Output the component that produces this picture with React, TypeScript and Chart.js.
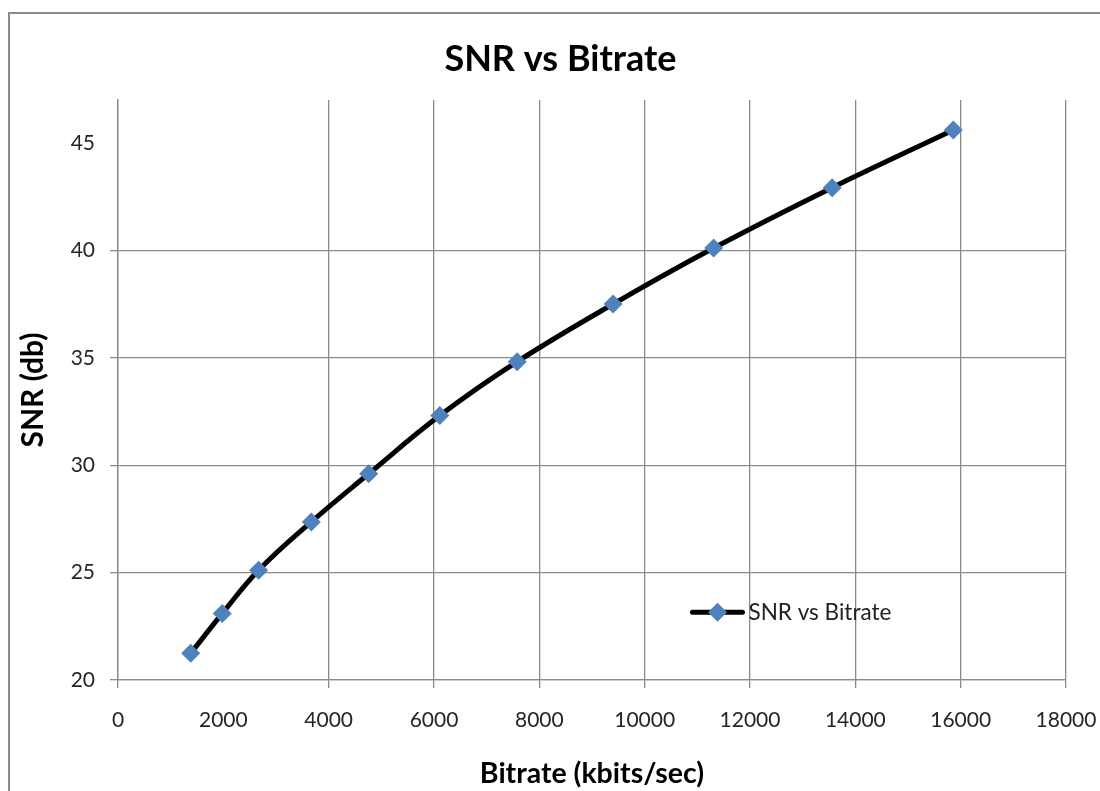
import React, { useEffect, useRef } from "react";
import { Chart, registerables } from "chart.js";

Chart.register(...registerables);

const chartTitle = "SNR vs Bitrate";
const seriesLabel = "SNR vs Bitrate";
const bitrate = [1380, 1980, 2670, 3670, 4760, 6110, 7580, 9400, 11310, 13560, 15860];
const snr = [21.24, 23.1, 25.11, 27.36, 29.6, 32.31, 34.82, 37.5, 40.11, 42.92, 45.6];
const xTicks = [0, 2000, 4000, 6000, 8000, 10000, 12000, 14000, 16000, 18000];
const yTicks = [20, 25, 30, 35, 40, 45];
const hiddenXGrid = [2000];
const hiddenYGrid = [45];

const FONT = "Lato";
const GRID = "#8a8a8a";
const MARKER = "#4f81bd";

export default function App() {
  const ref = useRef<HTMLCanvasElement | null>(null);

  useEffect(() => {
    if (!ref.current) return;

    const framePlugin = {
      id: "frame",
      beforeDraw(chart: any) {
        const { ctx, width, height } = chart;
        ctx.save();
        ctx.fillStyle = "#ffffff";
        ctx.fillRect(0, 0, width, height);
        ctx.strokeStyle = "#8c8c8c";
        ctx.lineWidth = 2;
        ctx.strokeRect(9, 13, width + 100, height + 100);
        ctx.fillStyle = "#000000";
        ctx.font = `bold 36px ${FONT}`;
        ctx.textAlign = "center";
        ctx.textBaseline = "middle";
        ctx.fillText(chartTitle, width * 0.5095, 59);
        ctx.restore();
      },
    };

    const legendPlugin = {
      id: "innerLegend",
      afterDraw(chart: any) {
        const { ctx, chartArea } = chart;
        const ds = chart.data.datasets[0];
        const w = chartArea.right - chartArea.left;
        const h = chartArea.bottom - chartArea.top;
        const x0 = chartArea.left + w * 0.606;
        const y = chartArea.top + h * 0.883;
        ctx.save();
        ctx.strokeStyle = ds.borderColor;
        ctx.lineWidth = ds.borderWidth;
        ctx.lineCap = "round";
        ctx.beginPath();
        ctx.moveTo(x0, y);
        ctx.lineTo(x0 + 50, y);
        ctx.stroke();
        const mx = x0 + 25;
        const r = ds.pointRadius;
        ctx.fillStyle = ds.pointBackgroundColor;
        ctx.beginPath();
        ctx.moveTo(mx, y - r);
        ctx.lineTo(mx + r, y);
        ctx.lineTo(mx, y + r);
        ctx.lineTo(mx - r, y);
        ctx.closePath();
        ctx.fill();
        ctx.fillStyle = "#222222";
        ctx.font = `22.5px ${FONT}`;
        ctx.textBaseline = "middle";
        ctx.textAlign = "left";
        ctx.fillText(ds.label, x0 + 56, y + 1);
        ctx.restore();
      },
    };

    const chart = new Chart(ref.current, {
      type: "line",
      data: {
        datasets: [
          {
            label: seriesLabel,
            data: bitrate.map((b, i) => ({ x: b, y: snr[i] })),
            borderColor: "#000000",
            borderWidth: 5,
            tension: 0.4,
            pointStyle: "rectRot",
            pointRadius: 9.5,
            pointBorderWidth: 0,
            pointBackgroundColor: MARKER,
            pointBorderColor: MARKER,
            fill: false,
          },
        ],
      },
      options: {
        animation: false,
        responsive: false,
        devicePixelRatio: 1,
        layout: { padding: { left: 0, right: 0, top: 100, bottom: 0 } },
        plugins: {
          legend: { display: false },
          tooltip: { enabled: false },
          title: { display: false },
        },
        scales: {
          x: {
            type: "linear",
            min: 0,
            max: 18000,
            afterBuildTicks: (scale: any) => {
              scale.ticks = xTicks.map((v) => ({ value: v }));
            },
            afterFit: (scale: any) => {
              scale.height = 111;
              scale.paddingRight = 34;
              scale.paddingLeft = 0;
            },
            ticks: {
              color: "#262626",
              font: { family: FONT, size: 21 },
              padding: 20,
              maxRotation: 0,
              autoSkip: false,
              callback: (v: any) => String(v),
            },
            grid: {
              color: (c: any) =>
                c.tick && hiddenXGrid.includes(c.tick.value) ? "rgba(0,0,0,0)" : GRID,
              lineWidth: 1.3,
              tickLength: 8,
            },
            border: { color: GRID, width: 1.3 },
            title: {
              display: true,
              text: "Bitrate (kbits/sec)",
              color: "#000000",
              font: { family: FONT, size: 28.5, weight: "bold" },
              padding: { top: 0, bottom: 0 },
            },
          },
          y: {
            type: "linear",
            min: 20,
            max: 47,
            afterBuildTicks: (scale: any) => {
              scale.ticks = yTicks.map((v) => ({ value: v }));
            },
            afterFit: (scale: any) => {
              scale.width = 118;
            },
            ticks: {
              color: "#262626",
              font: { family: FONT, size: 21 },
              padding: 15,
              autoSkip: false,
              callback: (v: any) => String(v),
            },
            grid: {
              color: (c: any) =>
                c.tick && hiddenYGrid.includes(c.tick.value) ? "rgba(0,0,0,0)" : GRID,
              lineWidth: 1.3,
              tickLength: 8,
            },
            border: { color: GRID, width: 1.3 },
            title: {
              display: true,
              text: "SNR (db)",
              color: "#000000",
              font: { family: FONT, size: 30, weight: "bold" },
              padding: { top: 15, bottom: 0 },
            },
          },
        },
      },
      plugins: [framePlugin, legendPlugin],
    });

    return () => chart.destroy();
  }, []);

  return (
    <div style={{ position: "fixed", left: 0, top: 0, width: 1100, height: 791, overflow: "hidden" }}>
      <canvas ref={ref} width={1100} height={791} style={{ display: "block", width: 1100, height: 791 }} />
    </div>
  );
}
